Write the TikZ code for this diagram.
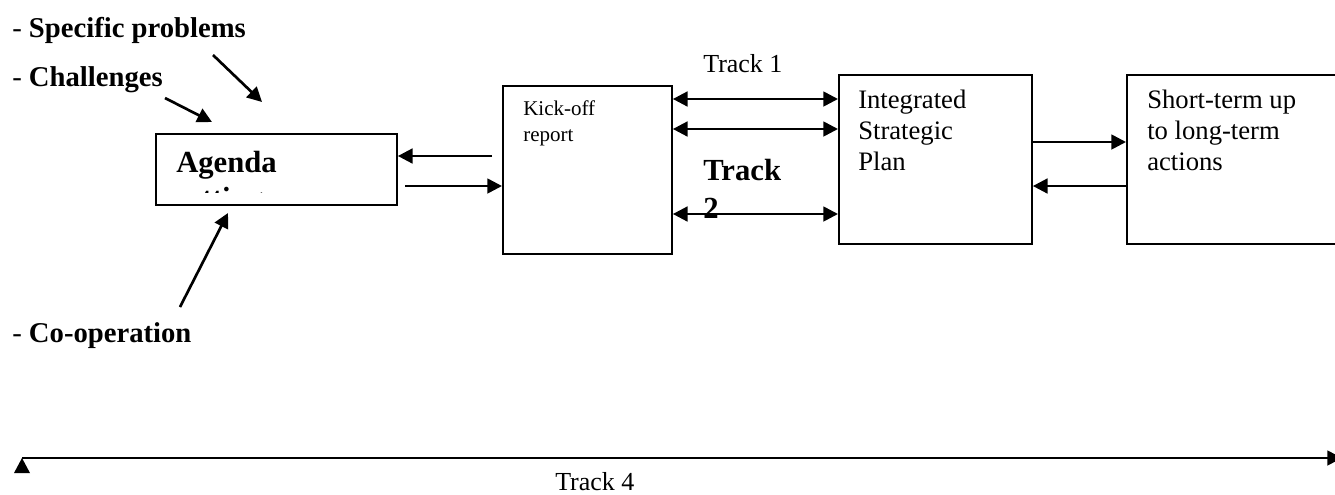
\documentclass[tikz,border=0pt]{standalone}
\usepackage{fontspec}
\setmainfont{Liberation Serif}
\usetikzlibrary{arrows.meta}
\begin{document}
\begin{tikzpicture}[x=0.75pt,y=-0.75pt,
  box/.style={draw, line width=1.4pt, inner sep=0pt, anchor=north west},
  arr/.style={line width=2pt, -{Triangle[length=11pt,width=11pt]}},
  both/.style={line width=2pt, {Triangle[length=11pt,width=11pt]}-{Triangle[length=11pt,width=11pt]}},
  lbl/.style={inner sep=0pt, anchor=base west, align=left},
  bigbold/.style={font=\fontsize{23}{28.5}\selectfont\bfseries},
  side/.style={font=\fontsize{21.5}{26}\selectfont},
  boxtext/.style={font=\fontsize{20}{23}\selectfont},
]
\useasboundingbox (0,0) rectangle (1335,494);

% boxes
\node[box, minimum width=180.75pt, minimum height=53.25pt] (agenda) at (155,133) {};
\node[box, minimum width=126.75pt, minimum height=126pt] (kick) at (502,85) {};
\node[box, minimum width=144.75pt, minimum height=126.75pt] (isp) at (838,74) {};
\node[box, minimum width=170pt, minimum height=126.75pt] (act) at (1126,74) {};

% box texts (base anchor sits on the last line)
\begin{scope}
  \clip (157,135) rectangle (394,192.5);
  \node[lbl, font=\fontsize{23}{27}\selectfont\bfseries] (agendatext) at (176,208) {Agenda\\setting};
\end{scope}
\node[lbl, font=\fontsize{15.75}{19.5}\selectfont] (kicktext) at (523,141) {Kick-off\\report};
\node[lbl, boxtext] (isptext) at (858,170) {Integrated\\Strategic\\Plan};
\node[lbl, boxtext] (acttext) at (1147,170) {Short-term up\\to long-term\\actions};

% side labels
\node[lbl, side] (spec) at (12,37) {- \textbf{Specific problems}};
\node[lbl, side] (chal) at (12,86) {- \textbf{Challenges}};
\node[lbl, side] (coop) at (12,342) {- \textbf{Co-operation}};

% track labels
\node[lbl, font=\fontsize{19.5}{23}\selectfont] (tr1) at (703,72) {Track 1};
\node[lbl, bigbold] (tr2) at (703,218) {Track\\2};
\node[lbl, font=\fontsize{19.5}{23}\selectfont] (tr4) at (555,490) {Track 4};

% inputs to the agenda
\coordinate (s0) at (213,55);  \coordinate (s1) at (262,102);
\coordinate (c0) at (165,98);  \coordinate (c1) at (212,122);
\coordinate (o0) at (180,307); \coordinate (o1) at (228,213);
\draw[arr] (s0) -- (s1);
\draw[arr] (c0) -- (c1);
\draw[arr] (o0) -- (o1);

% agenda <-> kick-off
\coordinate (k1) at (492,156);
\coordinate (a1) at (405,186);
\draw[arr] (k1) -- (agenda.east |- k1);
\draw[arr] (a1) -- (kick.west |- a1);

% kick-off <-> plan
\coordinate (t1) at (750,99);
\coordinate (t2) at (750,129);
\coordinate (t3) at (750,214);
\draw[both] (kick.east |- t1) -- (isp.west |- t1);
\draw[both] (kick.east |- t2) -- (isp.west |- t2);
\draw[both] (kick.east |- t3) -- (isp.west |- t3);

% plan <-> actions
\coordinate (p1) at (1080,142);
\coordinate (p2) at (1080,186);
\draw[arr] (isp.east |- p1) -- (act.west |- p1);
\draw[arr] (act.west |- p2) -- (isp.east |- p2);

% time line
\coordinate (l0) at (22,458);
\coordinate (l1) at (1342,458);
\draw[arr] (l0) -- (l1);
\fill (l0) -- ++(8,15) -- ++(-16,0) -- cycle;
\end{tikzpicture}
\end{document}
